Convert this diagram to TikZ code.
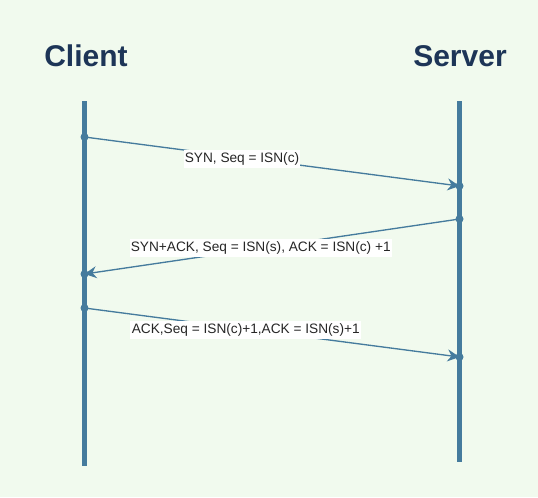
\documentclass[tikz,border=0pt]{standalone}
\usepackage{fontspec}
\setmainfont{Liberation Sans}
\usetikzlibrary{arrows.meta}
\definecolor{bgc}{HTML}{F1FAEE}
\definecolor{navy}{HTML}{1D3557}
\definecolor{steel}{HTML}{457B9D}
\begin{document}
\begin{tikzpicture}[x=0.75pt,y=-0.75pt,
  title/.style={font=\fontsize{22.5pt}{26pt}\selectfont\bfseries, text=navy, anchor=base, inner sep=0pt},
  lifeline/.style={draw=steel, line width=3.7pt},
  msg/.style={draw=steel, line width=1pt, -{Stealth[length=9pt,width=9pt,inset=3pt]}},
  lbl/.style={font=\fontsize{10.25pt}{11.5pt}\selectfont, text=black!85, fill=white, inner xsep=1pt, inner ysep=1.8pt},
  dot/.style={circle, fill=steel, inner sep=0pt, minimum size=6pt}]
\fill[bgc] (0,0) rectangle (538,497);
\useasboundingbox (0,0) rectangle (538,497);
\node[title] (client) at (86,66) {Client};
\node[title] (server) at (460,66) {Server};
\coordinate (ct) at (84.5,101);
\coordinate (cb) at (84.5,466);
\coordinate (st) at (459.5,101);
\coordinate (sb) at (459.5,462);
\draw[lifeline] (ct) -- (cb);
\draw[lifeline] (st) -- (sb);
\node[dot] (a1) at (84.5,137) {};
\node[dot] (b1) at (459.5,186) {};
\node[dot] (b2) at (459.5,219) {};
\node[dot] (a2) at (84.5,274) {};
\node[dot] (a3) at (84.5,308) {};
\node[dot] (b3) at (459.5,357) {};
\draw[msg] (a1.center) -- node[lbl, pos=0.42, yshift=-1.1pt] {SYN, Seq = ISN(c)} (b1.center);
\draw[msg] (b2.center) -- node[lbl, pos=0.53, yshift=0.3pt] {SYN+ACK, Seq = ISN(s), ACK = ISN(c) +1} (a2.center);
\draw[msg] (a3.center) -- node[lbl, pos=0.43, yshift=-0.8pt] {ACK,Seq = ISN(c)+1,ACK = ISN(s)+1} (b3.center);
\end{tikzpicture}
\end{document}
